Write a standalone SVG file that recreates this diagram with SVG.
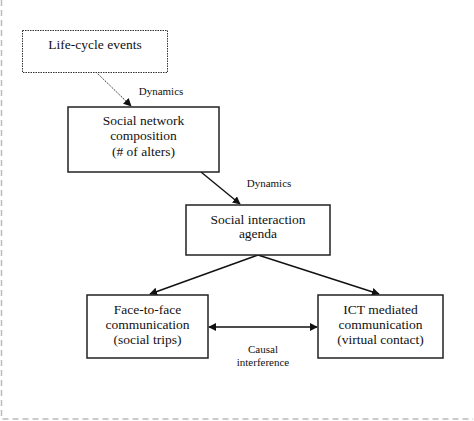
<svg xmlns="http://www.w3.org/2000/svg" width="474" height="421" viewBox="0 0 474 421">
<defs>
<style>
text{font-family:"Liberation Serif","Times New Roman",serif;fill:#111;text-anchor:middle}
.t{font-size:13.5px}
.s{font-size:11px}
.box{fill:#fff;stroke:#222;stroke-width:1.5}
.c{stroke:#111;stroke-width:1.4;fill:none}
</style>
<marker id="ah" viewBox="0 0 10 10" refX="9" refY="5" markerWidth="8" markerHeight="8" markerUnits="userSpaceOnUse" orient="auto-start-reverse">
<path d="M0,0 L10,5 L0,10 z" fill="#111"/>
</marker>
</defs>
<rect width="474" height="421" fill="#fff"/>
<path d="M1.5,0 V419 H473" fill="none" stroke="#bbb" stroke-width="1.5" stroke-dasharray="6,4"/>
<g id="connectors">
<line x1="96" y1="72" x2="131" y2="106" stroke="#333" stroke-width="1" stroke-dasharray="1.5,1" marker-end="url(#ah)"/>
<line class="c" x1="201" y1="172" x2="240" y2="204" marker-end="url(#ah)"/>
<line class="c" x1="258" y1="255" x2="150" y2="294" marker-end="url(#ah)"/>
<line class="c" x1="258" y1="255" x2="379" y2="294" marker-end="url(#ah)"/>
<line class="c" x1="209" y1="327" x2="317" y2="327" marker-start="url(#ah)" marker-end="url(#ah)"/>
<text class="s" x="161" y="95">Dynamics</text>
<text class="s" x="269" y="187">Dynamics</text>
<text class="s" x="263" y="353">Causal</text>
<text class="s" x="263" y="366">interference</text>
</g>
<g id="life-cycle">
<rect x="22.5" y="30.5" width="145" height="42" fill="#fff" stroke="#333" stroke-width="1" stroke-dasharray="1.5,1"/>
<text class="t" x="95" y="49">Life-cycle events</text>
</g>
<g id="social-network">
<rect class="box" x="68" y="107" width="151" height="65"/>
<text class="t" x="143.5" y="125">Social network</text>
<text class="t" x="143.5" y="140">composition</text>
<text class="t" x="143.5" y="156">(# of alters)</text>
</g>
<g id="social-interaction">
<rect class="box" x="186" y="205" width="144" height="50"/>
<text class="t" x="258" y="224">Social interaction</text>
<text class="t" x="258" y="238">agenda</text>
</g>
<g id="face-to-face">
<rect class="box" x="87" y="295" width="121" height="63"/>
<text class="t" x="147.5" y="314">Face-to-face</text>
<text class="t" x="147.5" y="329">communication</text>
<text class="t" x="147.5" y="344">(social trips)</text>
</g>
<g id="ict">
<rect class="box" x="318" y="295" width="125" height="63"/>
<text class="t" x="380.5" y="314">ICT mediated</text>
<text class="t" x="380.5" y="329">communication</text>
<text class="t" x="380.5" y="344">(virtual contact)</text>
</g>
</svg>
